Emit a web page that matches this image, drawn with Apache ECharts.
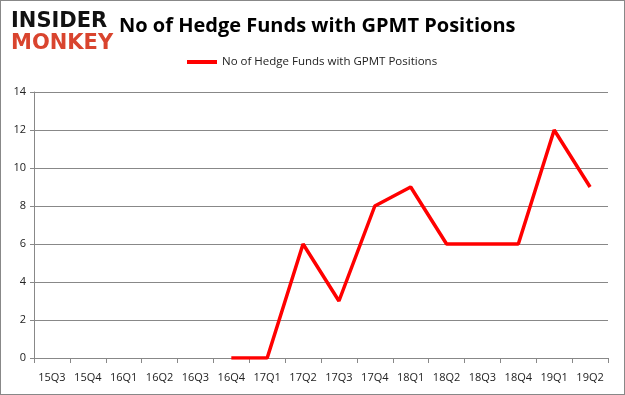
<!DOCTYPE html>
<html><head><meta charset="utf-8">
<script src="https://cdn.jsdelivr.net/npm/echarts@6/dist/echarts.min.js"></script>
<style>html,body{margin:0;padding:0;background:#fff}#c{width:625px;height:395px;box-sizing:border-box;border:1px solid #888}</style>
</head><body><div id="c"></div>
<script>
const categories = ['15Q3','15Q4','16Q1','16Q2','16Q3','16Q4','17Q1','17Q2','17Q3','17Q4','18Q1','18Q2','18Q3','18Q4','19Q1','19Q2'];
const seriesName = 'No of Hedge Funds with GPMT Positions';
const values = [null,null,null,null,null,0,0,6,3,8,9,6,6,6,12,9];
const yTicks = {min:0,max:14,interval:2};

const chart = echarts.init(document.getElementById('c'), null, {renderer:'canvas'});
chart.setOption({
  animation:false,
  title:[
    {text:'No of Hedge Funds with GPMT Positions',left:113,top:10,textStyle:{fontFamily:'Open Sans',fontWeight:'bold',fontSize:20,color:'#000'}},
    {text:'INSIDER',left:5,top:5,textStyle:{fontFamily:'DejaVu Sans',fontWeight:'bold',fontSize:21,color:'#111'}},
    {text:'MONKEY',left:5,top:27,textStyle:{fontFamily:'DejaVu Sans',fontWeight:'bold',fontSize:21,color:'#d9442e'}}
  ],
  legend:{top:55,left:186,padding:0,itemWidth:30,itemHeight:4,icon:'rect',itemGap:5,
    textStyle:{fontFamily:'Open Sans',fontSize:11.5,color:'#222'},data:[seriesName]},
  grid:{left:33,right:16,top:91,bottom:36},
  xAxis:{type:'category',data:categories,boundaryGap:true,
    axisLine:{lineStyle:{color:'#888'}},axisTick:{show:true,alignWithLabel:false,lineStyle:{color:'#888'}},
    axisLabel:{fontFamily:'Open Sans',fontSize:11,color:'#222',margin:14}},
  yAxis:{type:'value',min:yTicks.min,max:yTicks.max,interval:yTicks.interval,
    axisLine:{show:true,lineStyle:{color:'#888'}},axisTick:{show:true,length:4,lineStyle:{color:'#888'}},
    splitLine:{lineStyle:{color:'#888'}},
    axisLabel:{fontFamily:'Open Sans',fontSize:11,color:'#222',margin:8}},
  series:[{name:seriesName,type:'line',data:values,symbol:'none',connectNulls:false,
    lineStyle:{color:'#ff0000',width:3.5},itemStyle:{color:'#ff0000'}}]
});
</script></body></html>
